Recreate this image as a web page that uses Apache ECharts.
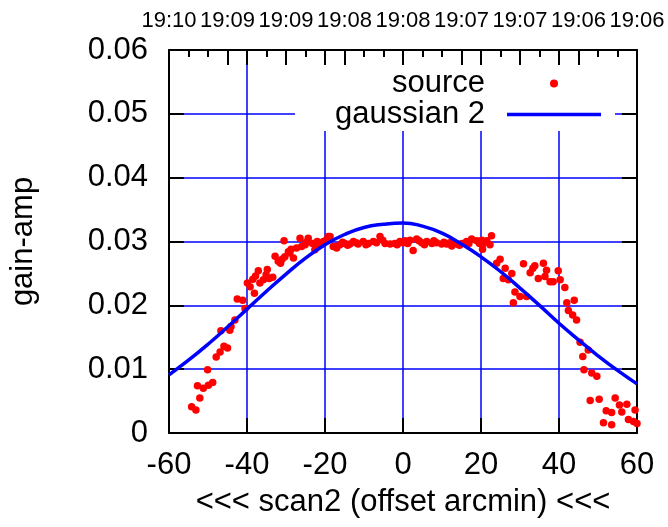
<!DOCTYPE html>
<html>
<head>
<meta charset="utf-8">
<script src="https://cdn.jsdelivr.net/npm/echarts@6/dist/echarts.min.js"></script>
<style>
  html, body { margin: 0; padding: 0; background: #fff; }
  #chart { width: 668px; height: 527px; }
</style>
</head>
<body>
<div id="chart"></div>
<script>
// top axis time labels (one per 15 arcmin, from -60 to 60)
const topLabels = ["19:10", "19:09", "19:09", "19:08", "19:08", "19:07", "19:07", "19:06", "19:06"];

// source points
const sourceX = [
	-54.2, -53.1, -52.1, -52.7, -51.2, -49.9, -48.8, -50.1, -47.9, -46.9,
	-45.9, -45.0, -46.7, -44.4, -44.1, -43.1, -42.5, -41.1, -40.5, -39.9,
	-38.5, -39.2, -38.1, -37.1, -36.7, -35.1, -34.3, -33.4, -35.8, -30.5,
	-32.8, -32.0, -31.4, -30.3, -29.0, -28.1, -29.4, -27.3, -26.4, -25.1,
	-24.3, -23.2, -22.6, -21.7, -20.4, -19.2, -17.9, -17.0, -19.7, -18.7,
	-17.4, -16.2, -14.9, -13.6, -12.7, -11.5, -10.2, -8.9, -7.6, -5.9,
	-4.6, -3.3, -2.1, -0.8, 0.5, 1.8, 2.6, 3.5, 4.8, 6.1,
	7.4, 8.6, 9.9, 11.2, 12.5, 13.8, 15.1, 16.3, 17.6, 18.9,
	-15.5, -14.2, -12.0, -9.5, -6.8, -5.2, -1.5, 0.0, 1.2, 4.1,
	5.5, 7.9, 10.5, 12.0, 14.5, 16.9, 19.6, -22.0, -24.8, -26.0,
	-28.7, -31.0, -34.8, -37.8,
	20.2, 21.5, 22.3, 20.4, 22.7, 20.6, 24.0, 24.9, 26.2, 27.9,
	25.7, 27.0, 28.7, 30.0, 31.7, 28.3, 30.9, 32.6, 33.3, 33.8,
	34.7, 36.0, 36.8, 36.4, 37.7, 38.5, 39.8, 40.3, 41.5, 42.0,
	43.9, 42.4, 43.5, 44.5, 45.4, 47.5, 46.1, 46.4, 48.4, 49.7,
	48.0, 50.3, 54.4, 55.5, 57.4, 52.1, 53.5, 56.1, 59.5, 51.4,
	53.5, 57.8, 59.1, 60.0
];
const sourceY = [
	0.0041, 0.0036, 0.0055, 0.0074, 0.0070, 0.0075, 0.0079, 0.0099, 0.0119, 0.0127,
	0.0136, 0.0133, 0.0160, 0.0161, 0.0167, 0.0177, 0.0210, 0.0208, 0.0195, 0.0235,
	0.0241, 0.0229, 0.0219, 0.0254, 0.0235, 0.0248, 0.0242, 0.0244, 0.0240, 0.0301,
	0.0277, 0.0269, 0.0266, 0.0276, 0.0282, 0.0274, 0.0284, 0.0290, 0.0305, 0.0295,
	0.0305, 0.0297, 0.0287, 0.0293, 0.0300, 0.0308, 0.0292, 0.0290, 0.0302, 0.0308,
	0.0292, 0.0295, 0.0297, 0.0296, 0.0300, 0.0296, 0.0300, 0.0297, 0.0300, 0.0308,
	0.0297, 0.0296, 0.0297, 0.0300, 0.0301, 0.0302, 0.0286, 0.0304, 0.0298, 0.0300,
	0.0297, 0.0298, 0.0296, 0.0296, 0.0293, 0.0296, 0.0297, 0.0300, 0.0304, 0.0301,
	0.0299, 0.0294, 0.0298, 0.0295, 0.0298, 0.0302, 0.0295, 0.0298, 0.0297, 0.0301,
	0.0295, 0.0301, 0.0299, 0.0298, 0.0294, 0.0297, 0.0297, 0.0300, 0.0299, 0.0292,
	0.0288, 0.0272, 0.0256, 0.0246,
	0.0302, 0.0301, 0.0295, 0.0288, 0.0309, 0.0297, 0.0266, 0.0272, 0.0258, 0.0250,
	0.0242, 0.0240, 0.0221, 0.0214, 0.0214, 0.0204, 0.0265, 0.0251, 0.0258, 0.0262,
	0.0242, 0.0266, 0.0255, 0.0245, 0.0237, 0.0237, 0.0254, 0.0240, 0.0228, 0.0204,
	0.0208, 0.0192, 0.0185, 0.0177, 0.0142, 0.0130, 0.0120, 0.0099, 0.0094, 0.0089,
	0.0051, 0.0053, 0.0055, 0.0044, 0.0045, 0.0035, 0.0032, 0.0033, 0.0036, 0.0016,
	0.0013, 0.0021, 0.0018, 0.0015
];

// fitted curve, sampled every 5 arcmin
const fitX = [-60, -55, -50, -45, -40, -35, -30, -25, -20, -15, -10, -5, 0, 5, 10, 15, 20, 25, 30, 35, 40, 45, 50, 55, 60];
const fitY = [
	0.0091, 0.0114, 0.0139, 0.0166, 0.0194, 0.0222, 0.0249, 0.0274, 0.0295, 0.0311,
	0.0322, 0.0327, 0.0329, 0.0324, 0.0313, 0.0296, 0.0276, 0.0253, 0.0227, 0.0200,
	0.0172, 0.0146, 0.0121, 0.0098, 0.0077
];

const FONT = "Liberation Sans";
const blue = "#0000ff";
const gridLine = { show: true, lineStyle: { color: blue, width: 1.5 } };
const frame = { show: true, onZero: false, lineStyle: { color: "#000", width: 2 } };
const ticksIn = { show: true, inside: true, length: 15, lineStyle: { color: "#000", width: 2 } };
const off = { show: false };

// legend line: thin bar inside a 94x8 box so the aspect stays right
const lineIcon = "path://M0,0 L0,0 M0,8 L0,8 M0,2.25 L94,2.25 L94,5.75 L0,5.75 Z";

const chart = echarts.init(document.getElementById("chart"));

const sourceData = sourceX.map((x, i) => [x, sourceY[i]]);
const fitData = fitX.map((x, i) => [x, fitY[i]]);

chart.setOption({
	animation: false,
	backgroundColor: "#fff",
	grid: [
		{ left: 169, right: 31, top: 50, bottom: 94 },
		{ left: 169, right: 31, top: 50, bottom: 94 },
	],
	legend: {
		orient: "vertical",
		align: "right",
		right: 53,
		top: 65,
		padding: [3, 14, 1, 40],
		backgroundColor: "#fff",
		itemWidth: 94,
		itemHeight: 8,
		itemGap: 0,
		textStyle: { fontFamily: FONT, fontSize: 31, color: "#000", padding: [0, 17, 0, 0] },
		data: [
			{ name: "source", icon: "circle" },
			{ name: "gaussian 2", icon: lineIcon },
		],
	},
	xAxis: [
		{
			type: "value",
			gridIndex: 0,
			position: "bottom",
			min: -60,
			max: 60,
			interval: 20,
			name: "<<< scan2 (offset arcmin) <<<",
			nameLocation: "middle",
			nameGap: 54,
			nameTextStyle: { fontFamily: FONT, fontSize: 31, color: "#000" },
			axisLine: frame,
			axisTick: ticksIn,
			axisLabel: { fontFamily: FONT, fontSize: 31, color: "#000", margin: 17 },
			splitLine: gridLine,
		},
		{
			type: "value",
			gridIndex: 0,
			position: "top",
			min: -60,
			max: 60,
			interval: 15,
			axisLine: frame,
			axisTick: ticksIn,
			minorTick: { show: true, splitNumber: 3, length: 7, lineStyle: { color: "#000", width: 2 } },
			axisLabel: {
				fontFamily: FONT,
				fontSize: 22,
				color: "#000",
				margin: 18,
				formatter: (v) => topLabels[Math.round((v + 60) / 15)],
			},
			splitLine: off,
			minorSplitLine: off,
		},
		{
			// mirrored bottom ticks on the top edge
			type: "value",
			gridIndex: 1,
			position: "top",
			min: -60,
			max: 60,
			interval: 20,
			axisLine: { show: false, onZero: false },
			axisTick: ticksIn,
			axisLabel: off,
			splitLine: off,
		},
	],
	yAxis: [
		{
			type: "value",
			gridIndex: 0,
			position: "left",
			min: 0,
			max: 0.06,
			interval: 0.01,
			name: "gain-amp",
			nameLocation: "middle",
			nameGap: 130,
			nameTextStyle: { fontFamily: FONT, fontSize: 31, color: "#000" },
			axisLine: frame,
			axisTick: ticksIn,
			axisLabel: {
				fontFamily: FONT,
				fontSize: 31,
				color: "#000",
				margin: 21,
				formatter: (v) => (v === 0 ? "0" : v.toFixed(2)),
			},
			splitLine: gridLine,
		},
		{
			type: "value",
			gridIndex: 0,
			position: "right",
			min: 0,
			max: 0.06,
			interval: 0.01,
			axisLine: frame,
			axisTick: ticksIn,
			axisLabel: off,
			splitLine: off,
		},
		{
			type: "value",
			gridIndex: 1,
			min: 0,
			max: 0.06,
			interval: 0.01,
			axisLine: { show: false, onZero: false },
			axisTick: off,
			axisLabel: off,
			splitLine: off,
		},
	],
	series: [
		{
			name: "source",
			type: "scatter",
			xAxisIndex: 0,
			yAxisIndex: 0,
			symbol: "circle",
			symbolSize: 7.5,
			itemStyle: { color: "#ff0000", opacity: 1 },
			data: sourceData,
		},
		{
			name: "gaussian 2",
			type: "line",
			xAxisIndex: 0,
			yAxisIndex: 0,
			smooth: true,
			symbol: "none",
			lineStyle: { color: blue, width: 3.5 },
			itemStyle: { color: blue },
			data: fitData,
		},
	],
});
</script>
</body>
</html>
